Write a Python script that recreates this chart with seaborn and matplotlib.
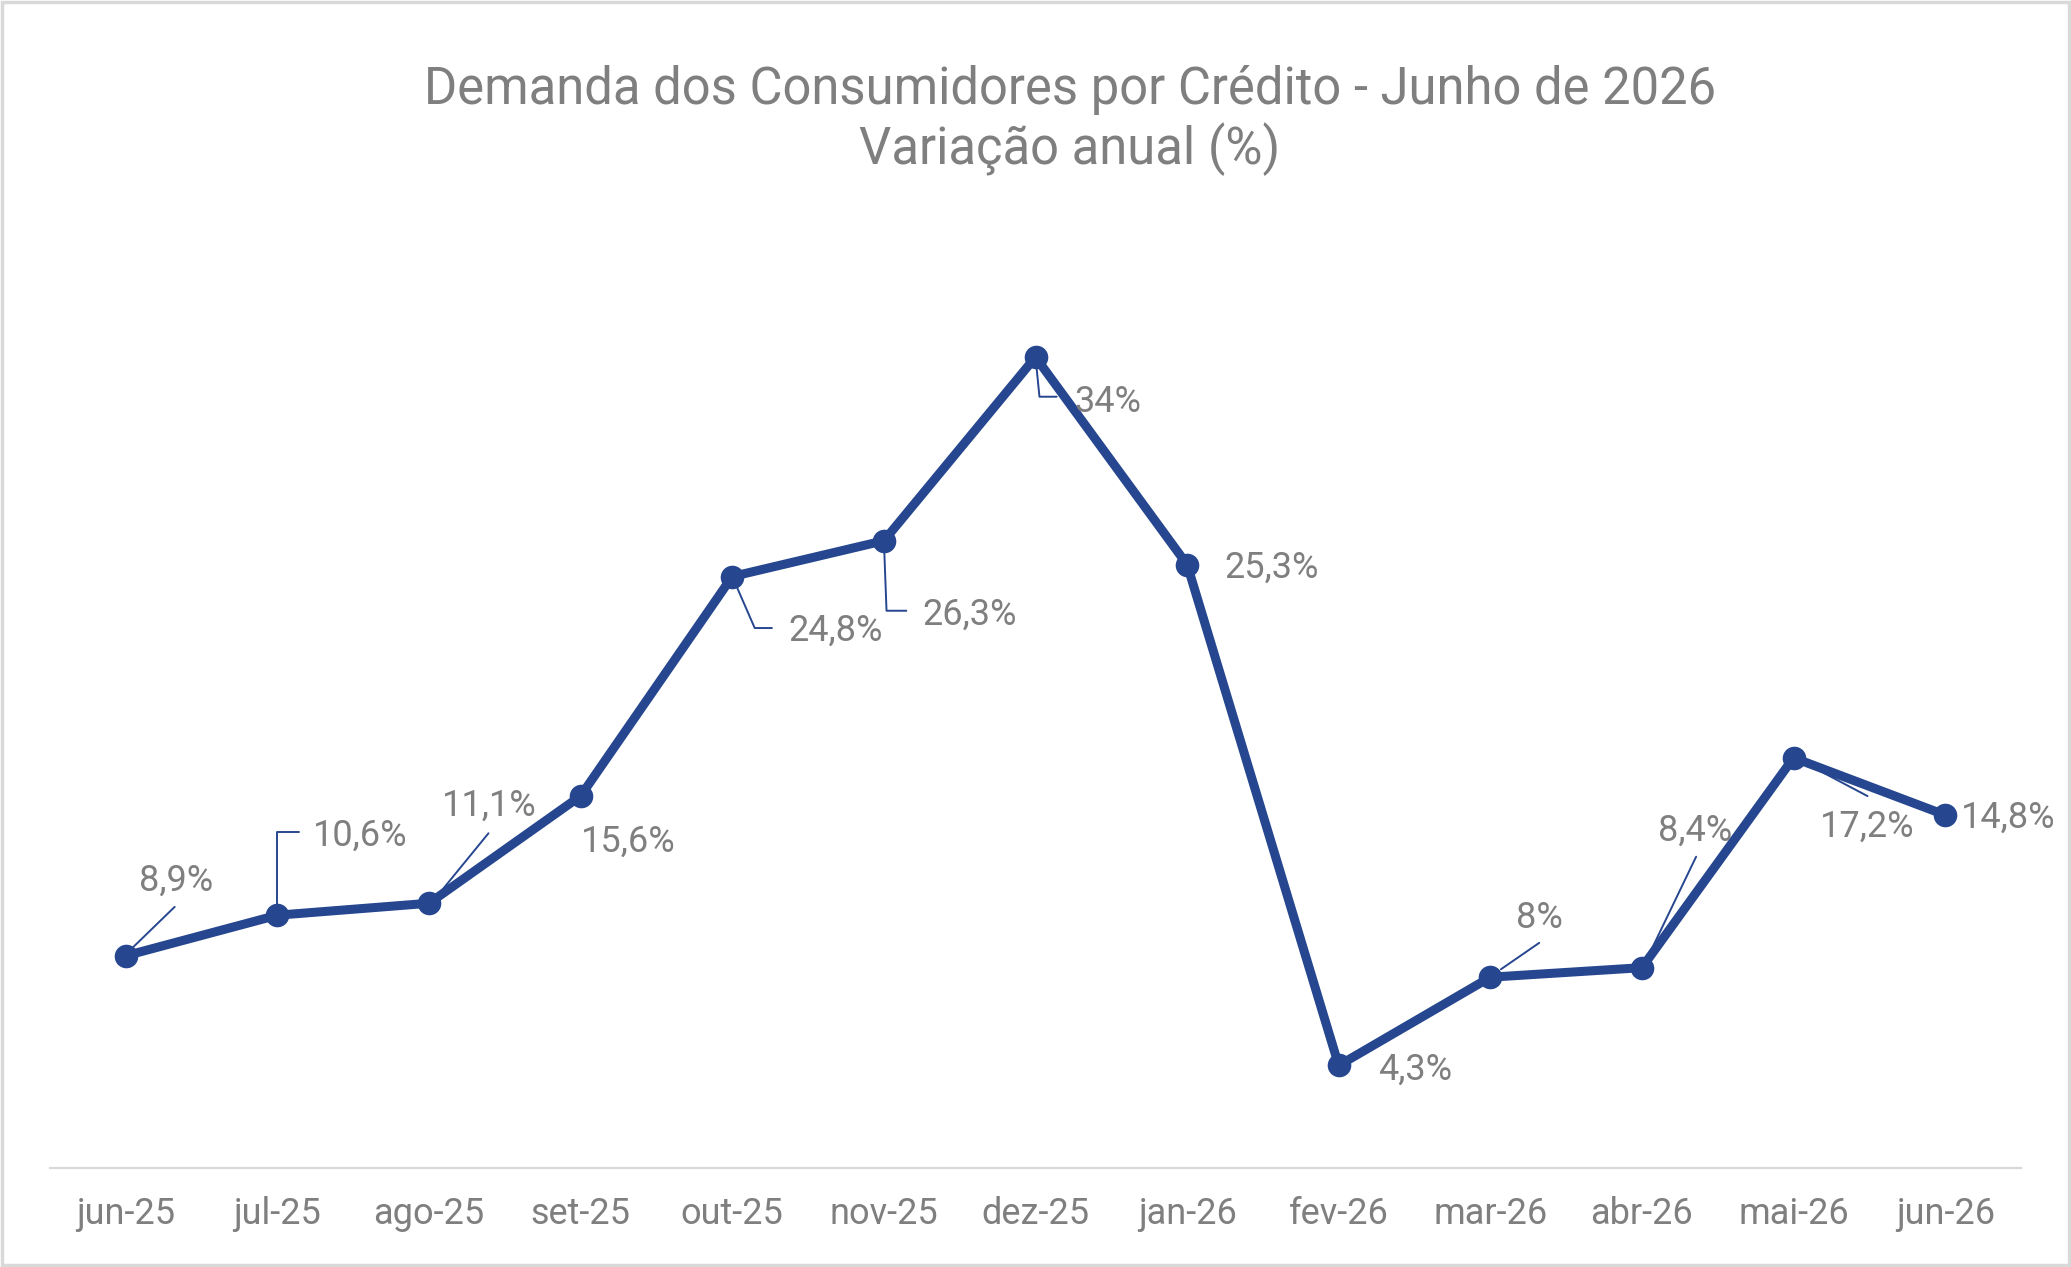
import pandas as pd
import matplotlib
matplotlib.use("Agg")
import matplotlib.pyplot as plt
import matplotlib.transforms as mtransforms
from matplotlib.patches import Rectangle
import seaborn as sns

meses = ["jun-25", "jul-25", "ago-25", "set-25", "out-25", "nov-25", "dez-25",
         "jan-26", "fev-26", "mar-26", "abr-26", "mai-26", "jun-26"]
variacao = [8.9, 10.6, 11.1, 15.6, 24.8, 26.3, 34.0, 25.3, 4.3, 8.0, 8.4, 17.2, 14.8]

titulo = "Demanda dos Consumidores por Crédito - Junho de 2026"
subtitulo = "Variação anual (%)"

AZUL = "#26468F"
CINZA = "#7F7F7F"
CLARO = "#D9D9D9"
S = 2071 / 1568  # px scale from the screen-sized sketch

# label offsets (px, y down) relative to each point
label_off = [(38, -57), (63, -60), (46, -74), (36, 35), (78, 41), (65, 56), (55, 34),
             (64, 2), (58, 3), (37, -45), (40, -104), (56, 52), (48, 2)]
# leader lines as vertex offsets (px, y down); None = no leader
leaders = [[(4, -5), (37, -37)],
           [(0, 0), (0, -63), (16, -63)],
           [(5, -4), (45, -53)],
           None,
           [(0, 0), (17, 39), (30, 39)],
           [(0, 0), (2, 53), (17, 53)],
           [(0, 0), (3, 30), (16, 30)],
           None,
           None,
           [(8, -6), (37, -26)],
           [(3, -5), (41, -84)],
           [(20, 10), (56, 29)],
           None]

sns.set_theme(style="white")
plt.rcParams["font.family"] = ["Roboto", "DejaVu Sans"]

df = pd.DataFrame({"mes": meses, "variacao": variacao})

fig = plt.figure(figsize=(20.71, 12.67), dpi=100)
ax = fig.add_axes([50 / 2071, 1 - 1168 / 1267, (2021 - 50) / 2071, (1168 - 214) / 1267])

sns.lineplot(data=df, x="mes", y="variacao", ax=ax, sort=False, color=AZUL,
             linewidth=6.5, marker="o", markersize=17, markeredgewidth=0, zorder=3)

ax.set_xlim(-0.5, len(meses) - 0.5)
ax.set_ylim(0, 40)
ax.set_xlabel("")
ax.set_ylabel("")
ax.set_yticks([])
ax.tick_params(axis="x", length=0, pad=20, labelsize=26, labelcolor=CINZA)
for side in ["top", "left", "right"]:
    ax.spines[side].set_visible(False)
ax.spines["bottom"].set_color(CLARO)
ax.spines["bottom"].set_linewidth(1.6)

for i, (m, v) in enumerate(zip(meses, variacao)):
    txt = f"{v:g}".replace(".", ",") + "%"
    dx, dy = label_off[i]
    ax.annotate(txt, xy=(i, v), xytext=(dx * S, -dy * S), textcoords="offset pixels",
                ha="center", va="center", fontsize=26, color=CINZA, zorder=4)
    if leaders[i] is not None:
        px, py = ax.transData.transform((i, v))
        tr = mtransforms.Affine2D().scale(S, -S).translate(px, py)
        xs = [p[0] for p in leaders[i]]
        ys = [p[1] for p in leaders[i]]
        ax.plot(xs, ys, color=AZUL, linewidth=1.4, transform=tr, clip_on=False, zorder=2)

fig.text(1070 / 2071, 1 - 90 / 1267, titulo, ha="center", va="center", fontsize=36.5, color=CINZA)
fig.text(1070 / 2071, 1 - 149 / 1267, subtitulo, ha="center", va="center", fontsize=36.5, color=CINZA)

fig.patches.append(Rectangle((0.001, 0.0015), 0.998, 0.997, transform=fig.transFigure,
                             fill=False, edgecolor=CLARO, linewidth=2.5))

fig.savefig("out.png", dpi=100)
